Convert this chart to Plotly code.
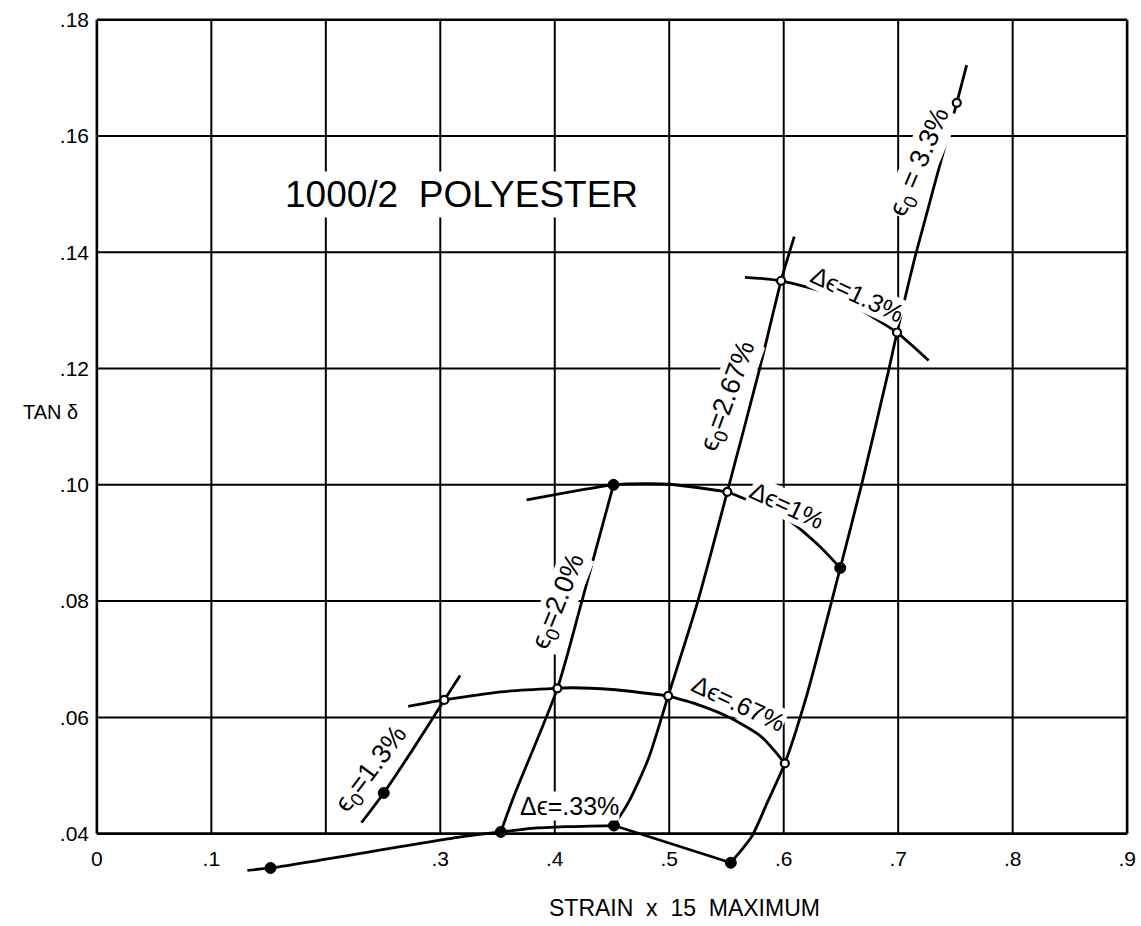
import plotly.graph_objects as go

# ---------------- data ----------------
x_grid = [0, .1, .2, .3, .4, .5, .6, .7, .8, .9]
y_grid = [.04, .06, .08, .10, .12, .14, .16, .18]
x_tick_vals = [0, .1, .3, .4, .5, .6, .7, .8, .9]
x_tick_text = ["0", ".1", ".3", ".4", ".5", ".6", ".7", ".8", ".9"]
y_tick_vals = [.04, .06, .08, .10, .12, .14, .16, .18]
y_tick_text = [".04", ".06", ".08", ".10", ".12", ".14", ".16", ".18"]

# constant initial strain curves (eps0)
e13_x = [0.2312, 0.2506, 0.2760, 0.3035, 0.3173]
e13_y = [0.0419, 0.0470, 0.0545, 0.0630, 0.0672]
e20_x = [0.3529, 0.3638, 0.4023, 0.4237, 0.4513]
e20_y = [0.0403, 0.0462, 0.0650, 0.0800, 0.1000]
e267_x = [0.4517, 0.4647, 0.4820, 0.4991, 0.5250, 0.5507, 0.5790, 0.5977, 0.6092]
e267_y = [0.0414, 0.0455, 0.0530, 0.0637, 0.0800, 0.0988, 0.1200, 0.1351, 0.1427]
e33_x = [0.5538, 0.5720, 0.5860, 0.6010, 0.6194, 0.6494, 0.6680, 0.6920, 0.6990, 0.7154, 0.7512, 0.7598]
e33_y = [0.0350, 0.0395, 0.0455, 0.0521, 0.0633, 0.0857, 0.1000, 0.1200, 0.1262, 0.1397, 0.1657, 0.1722]

# constant strain amplitude curves (delta eps)
d33a_x = [0.1315, 0.1517, 0.3194, 0.3529, 0.3800, 0.4100, 0.4517]
d33a_y = [0.0337, 0.0341, 0.0395, 0.0403, 0.0409, 0.0412, 0.0414]
d33b_x = [0.4517, 0.5538]
d33b_y = [0.0414, 0.0350]
d67a_x = [0.2720, 0.3035, 0.3529, 0.4023, 0.4147, 0.4500, 0.4991]
d67a_y = [0.0619, 0.0630, 0.0644, 0.0650, 0.0651, 0.0648, 0.0637]
d67b_x = [0.4991, 0.5250, 0.5514, 0.5803, 0.6010]
d67b_y = [0.0637, 0.0622, 0.0601, 0.0567, 0.0521]
d1a_x = [0.3754, 0.4513, 0.4800, 0.5000, 0.5507]
d1a_y = [0.0974, 0.1000, 0.1002, 0.1001, 0.0988]
d1b_x = [0.5507, 0.6000, 0.6304, 0.6494]
d1b_y = [0.0988, 0.0945, 0.0896, 0.0857]
d13_x = [0.5661, 0.5977, 0.6494, 0.6780, 0.6990, 0.7266]
d13_y = [0.1357, 0.1351, 0.1322, 0.1288, 0.1262, 0.1214]

# measured points
filled_x = [0.1517, 0.3529, 0.4517, 0.5538, 0.2506, 0.4513, 0.6494]
filled_y = [0.0341, 0.0403, 0.0414, 0.0350, 0.0470, 0.1000, 0.0857]
open_x = [0.3035, 0.4023, 0.4991, 0.6010, 0.5507, 0.5977, 0.6990, 0.7512]
open_y = [0.0630, 0.0650, 0.0637, 0.0521, 0.0988, 0.1351, 0.1262, 0.1657]

# curve labels: text, x, y, angle, size
label_text = ["ϵ<sub>0</sub>=1.3%", "ϵ<sub>0</sub>=2.0%", "ϵ<sub>0</sub>=2.67%", "ϵ<sub>0</sub> = 3.3%",
              "Δϵ=.33%", "Δϵ=.67%", "Δϵ=1%", "Δϵ=1.3%"]
label_x = [0.2401, 0.4037, 0.5521, 0.7198, 0.4127, 0.5603, 0.6026, 0.6643]
label_y = [0.0510, 0.0799, 0.1153, 0.1555, 0.0447, 0.0625, 0.0966, 0.1329]
label_angle = [-53, -68, -70, -67, 0, 25, 25, 25]
label_size = [27, 27, 27, 27, 25, 25, 25, 25]

FONT = "Liberation Sans, Arial, DejaVu Sans, sans-serif"
Y0, Y1 = 0.031, 0.1815

fig = go.Figure()

curves = [
    (e13_x, e13_y), (e20_x, e20_y), (e267_x, e267_y), (e33_x, e33_y),
    (d33a_x, d33a_y), (d33b_x, d33b_y), (d67a_x, d67a_y), (d67b_x, d67b_y),
    (d1a_x, d1a_y), (d1b_x, d1b_y), (d13_x, d13_y),
]
for cx, cy in curves:
    fig.add_trace(go.Scatter(
        x=cx, y=cy, mode="lines",
        line=dict(color="black", width=2.8, shape="spline", smoothing=0.7),
        hoverinfo="skip"))

fig.add_trace(go.Scatter(
    x=filled_x, y=filled_y, mode="markers",
    marker=dict(color="black", size=11, line=dict(color="black", width=1)),
    cliponaxis=False))
fig.add_trace(go.Scatter(
    x=open_x, y=open_y, mode="markers",
    marker=dict(color="white", size=8, line=dict(color="black", width=2.2)),
    cliponaxis=False))

# grid / frame
shapes = []
for gx in x_grid:
    w = 2.6 if gx in (0, .9) else 2
    shapes.append(dict(type="line", xref="x", yref="y", x0=gx, x1=gx,
                       y0=y_grid[0], y1=y_grid[-1], layer="below",
                       line=dict(color="black", width=w)))
for gy in y_grid:
    w = 2.6 if gy in (.04, .18) else 2
    shapes.append(dict(type="line", xref="x", yref="y", x0=x_grid[0], x1=x_grid[-1],
                       y0=gy, y1=gy, layer="below",
                       line=dict(color="black", width=w)))

annotations = []
for t, lx, ly, a, s in zip(label_text, label_x, label_y, label_angle, label_size):
    annotations.append(dict(text=t, x=lx, y=ly, xref="x", yref="y", showarrow=False,
                            textangle=a, font=dict(family=FONT, size=s, color="black"),
                            bgcolor="white", borderpad=0,
                            xanchor="center", yanchor="middle"))
annotations.append(dict(text="1000/2  POLYESTER", x=0.3181, y=0.1499, xref="x", yref="y",
                        showarrow=False, font=dict(family=FONT, size=37, color="black"),
                        bgcolor="white", borderpad=2))
annotations.append(dict(text="TAN δ", x=-0.038, y=0.1126, xref="paper", yref="y",
                        showarrow=False, font=dict(family=FONT, size=20, color="black"),
                        xanchor="center", yanchor="middle"))
annotations.append(dict(text="STRAIN  x  15  MAXIMUM", x=0.5137, y=0, xref="x", yref="paper",
                        showarrow=False, font=dict(family=FONT, size=23, color="black"),
                        xanchor="center", yanchor="middle", yshift=-22))

fig.update_layout(
    width=1141, height=926,
    margin=dict(l=90, r=7, t=11, b=40, autoexpand=False),
    plot_bgcolor="white", paper_bgcolor="white",
    showlegend=False,
    shapes=shapes, annotations=annotations,
    xaxis=dict(range=[-0.006, 0.906], showgrid=False, zeroline=False, showline=False,
               tickvals=x_tick_vals, ticktext=x_tick_text, ticks="", automargin=False,
               tickfont=dict(family=FONT, size=21, color="black"),
               anchor="free", position=(0.04 - Y0) / (Y1 - Y0), ticklabelstandoff=10),
    yaxis=dict(range=[Y0, Y1], showgrid=False, zeroline=False, showline=False,
               tickvals=y_tick_vals, ticktext=y_tick_text, ticks="", automargin=False,
               tickfont=dict(family=FONT, size=21, color="black")),
)

# remove the browser's default page margin so the figure fills the window exactly
fig.write_html("out.html",
               config={"displayModeBar": False},
               post_script="document.body.style.margin='0';document.body.style.overflow='hidden';")
